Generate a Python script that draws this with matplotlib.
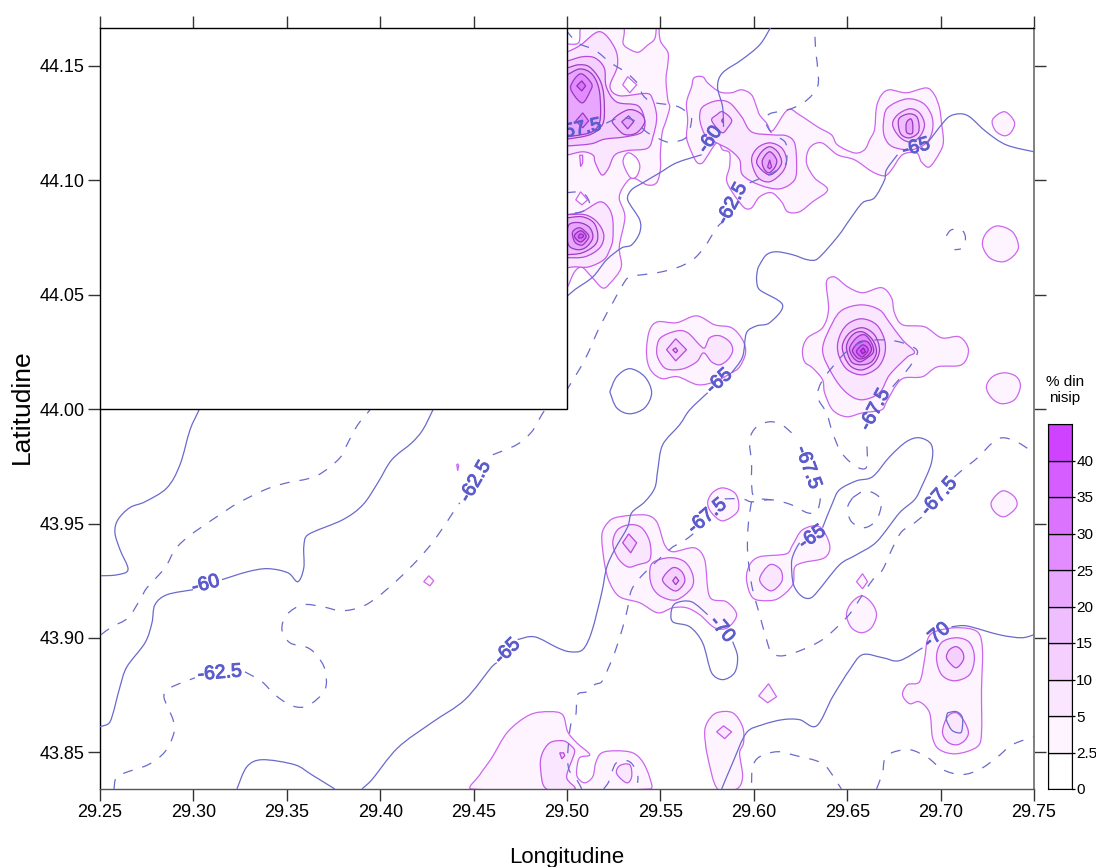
import numpy as np
import matplotlib
matplotlib.use('Agg')
import matplotlib.pyplot as plt
from matplotlib.patches import Rectangle, PathPatch
from matplotlib.path import Path
import matplotlib.patheffects as pe

plt.rcParams['font.family'] = ['Liberation Sans', 'DejaVu Sans']

# ── Sand percentage contours (lon, lat), one list per level ────────────────────
LEVEL_2_5 = [
    [(29.496,44.158),(29.506,44.160),(29.509,44.168),(29.529,44.168),(29.530,44.160),(29.532,44.158),(29.538,44.156),(29.543,44.159),(29.547,44.162),(29.548,44.168),(29.549,44.168),(29.550,44.161),(29.554,44.156),(29.554,44.151),(29.553,44.144),(29.554,44.135),(29.555,44.132),(29.553,44.126),(29.551,44.121),(29.550,44.112),(29.550,44.105),(29.548,44.099),(29.543,44.098),(29.535,44.101),(29.530,44.097),(29.528,44.092),(29.531,44.084),(29.528,44.071),(29.529,44.062),(29.523,44.055),(29.519,44.053),(29.513,44.058),(29.508,44.062),(29.504,44.060),(29.500,44.053),(29.496,44.049)],
    [(29.564,44.134),(29.5667,44.1409),(29.568,44.1448),(29.5726,44.1453),(29.5753,44.1426),(29.5817,44.1387),(29.588,44.1383),(29.5935,44.1396),(29.5988,44.1374),(29.6015,44.1321),(29.6031,44.1286),(29.6068,44.1251),(29.61,44.1217),(29.6181,44.1308),(29.6245,44.1286),(29.6341,44.1234),(29.6416,44.1199),(29.6448,44.1155),(29.6539,44.112),(29.6593,44.1134),(29.662,44.1177),(29.6646,44.1221),(29.6657,44.1321),(29.6684,44.1374),(29.6727,44.1396),(29.6817,44.1383),(29.6924,44.1404),(29.6967,44.1374),(29.6994,44.1317),(29.7005,44.1251),(29.7015,44.1168),(29.6994,44.112),(29.6941,44.1059),(29.6898,44.108),(29.6871,44.112),(29.6796,44.1112),(29.6737,44.1046),(29.67,44.102),(29.6636,44.1037),(29.6539,44.109),(29.6448,44.1112),(29.6363,44.1164),(29.6299,44.1142),(29.6282,44.1077),(29.6325,44.1011),(29.6395,44.0959),(29.6314,44.0906),(29.6245,44.0863),(29.6181,44.0863),(29.6149,44.0906),(29.6095,44.0946),(29.6031,44.0928),(29.5988,44.088),(29.595,44.088),(29.5887,44.0946),(29.5854,44.1002),(29.587,44.1059),(29.587,44.112),(29.5833,44.1134),(29.5801,44.1164),(29.5726,44.1077),(29.5694,44.108),(29.5657,44.1142),(29.564,44.119),(29.5646,44.1265)],
    [(29.7278,44.1265),(29.7342,44.13),(29.7395,44.1256),(29.7379,44.1212),(29.7342,44.1195),(29.7294,44.1217)],
    [(29.7224,44.0718),(29.7245,44.0771),(29.7304,44.0801),(29.7385,44.0775),(29.7417,44.071),(29.7385,44.0666),(29.7331,44.0644),(29.7262,44.0662)],
    [(29.5426,44.0268),(29.5443,44.0347),(29.5486,44.0382),(29.5587,44.0378),(29.5694,44.0408),(29.579,44.0369),(29.5881,44.0356),(29.594,44.0303),(29.5956,44.0246),(29.5924,44.0185),(29.5881,44.0159),(29.579,44.012),(29.5699,44.0107),(29.5592,44.0142),(29.5512,44.0133),(29.5459,44.0159),(29.5432,44.0203)],
    [(29.6261,44.026),(29.6288,44.0312),(29.6368,44.0356),(29.64,44.0434),(29.6389,44.0557),(29.6432,44.0578),(29.6502,44.0535),(29.6582,44.0509),(29.6684,44.0531),(29.6737,44.0487),(29.6753,44.0421),(29.6796,44.0369),(29.6914,44.036),(29.7005,44.0312),(29.7101,44.0316),(29.7149,44.026),(29.7112,44.0194),(29.6983,44.0185),(29.6903,44.0142),(29.6807,44.0137),(29.6764,44.0107),(29.671,44.0032),(29.6684,43.9997),(29.6582,43.9984),(29.6496,43.9967),(29.6422,43.9997),(29.6379,44.0072),(29.6368,44.0129),(29.6314,44.0181),(29.6272,44.0207)],
    [(29.7245,44.0098),(29.7278,44.0142),(29.7342,44.0159),(29.7406,44.0142),(29.7427,44.0098),(29.7395,44.0041),(29.7326,44.0024),(29.7272,44.005)],
    [(29.7272,43.9595),(29.7331,43.9643),(29.7395,43.9617),(29.7406,43.9573),(29.7342,43.9530),(29.7288,43.9552)],
    [(29.5753,43.9591),(29.5779,43.9635),(29.5833,43.9656),(29.5897,43.9635),(29.5919,43.9591),(29.5908,43.9547),(29.5833,43.9512),(29.5774,43.9547)],
    [(29.5186,43.9438),(29.5202,43.9486),(29.5255,43.9525),(29.5416,43.9538),(29.548,43.9508),(29.5523,43.9407),(29.5566,43.9377),(29.5683,43.9394),(29.5737,43.9342),(29.5764,43.918),(29.5854,43.9158),(29.5908,43.9102),(29.586,43.9045),(29.579,43.9045),(29.571,43.9102),(29.564,43.9132),(29.5566,43.9132),(29.5486,43.9110),(29.5389,43.9154),(29.5282,43.918),(29.5229,43.9241),(29.5202,43.932)],
    [(29.5961,43.9255),(29.5978,43.9320),(29.6031,43.9355),(29.6175,43.9368),(29.6208,43.9407),(29.6261,43.9473),(29.6352,43.9486),(29.6406,43.9407),(29.6379,43.9351),(29.6261,43.9329),(29.6218,43.9307),(29.6208,43.9233),(29.6138,43.9176),(29.6074,43.9163),(29.5994,43.9176)],
    [(29.655,43.9246),(29.6582,43.9281),(29.6609,43.9246),(29.6582,43.9215)],
    [(29.6496,43.9102),(29.6523,43.9154),(29.6577,43.9184),(29.663,43.9154),(29.6657,43.9102),(29.663,43.9045),(29.6577,43.9023),(29.6523,43.9045)],
    [(29.6026,43.8747),(29.6079,43.8800),(29.6122,43.8743),(29.6074,43.8717)],
    [(29.5737,43.8586),(29.5753,43.8634),(29.5801,43.8673),(29.5887,43.8673),(29.594,43.8612),(29.5945,43.8542),(29.5924,43.8498),(29.594,43.8393),(29.5908,43.834),(29.5806,43.834),(29.5753,43.8481)],
    [(29.6796,43.8752),(29.6823,43.8796),(29.6887,43.8809),(29.6914,43.8905),(29.693,43.8993),(29.6967,43.9027),(29.7085,43.9045),(29.7197,43.9027),(29.7224,43.8949),(29.7219,43.8774),(29.7219,43.8586),(29.7197,43.8525),(29.7085,43.8494),(29.6994,43.8512),(29.6957,43.8564),(29.6941,43.8673),(29.6887,43.8721),(29.6834,43.8713)],
    [(29.449,43.834),(29.4533,43.8402),(29.4597,43.8476),(29.4683,43.8590),(29.48,43.8664),(29.4908,43.8678),(29.4977,43.8664),(29.5004,43.859),(29.5052,43.8542),(29.5122,43.8490),(29.5068,43.8477),(29.5052,43.8425),(29.5057,43.839),(29.5095,43.8367),(29.5138,43.8394),(29.5154,43.8455),(29.5186,43.8498),(29.5266,43.8507),(29.5352,43.8498),(29.5405,43.8459),(29.5443,43.8389),(29.5443,43.834)],
    [(29.441,43.9757),(29.4415,43.9761),(29.442,43.9753),(29.4415,43.9731)],
    [(29.4233,43.9246),(29.426,43.9272),(29.4287,43.925),(29.4266,43.9228)],
]
HOLES_BELOW_2_5 = [
    [(29.5298,44.1418),(29.5325,44.1453),(29.5373,44.1418),(29.5336,44.1383)],
    [(29.530,44.108),(29.5325,44.112),(29.537,44.110),(29.539,44.106),(29.537,44.1015),(29.5336,44.1015)],
    [(29.5047,44.0915),(29.5073,44.095),(29.511,44.0915),(29.508,44.0893)],
]
LEVEL_5 = [
    [(29.49,44.156),(29.499,44.156),(29.507,44.159),(29.5175,44.165),(29.5255,44.158),(29.527,44.150),(29.523,44.141),(29.528,44.137),(29.5416,44.138),(29.545,44.137),(29.548,44.128),(29.546,44.119),(29.543,44.114),(29.532,44.113),(29.5255,44.111),(29.522,44.105),(29.5186,44.1024),(29.515,44.108),(29.514,44.111),(29.5084,44.1125),(29.499,44.111),(29.49,44.111)],
    [(29.5068,44.111),(29.5084,44.111),(29.5084,44.1077),(29.5073,44.106)],
    [(29.49,44.085),(29.499,44.085),(29.508,44.0863),(29.5175,44.0906),(29.5223,44.088),(29.5245,44.0828),(29.5245,44.074),(29.5229,44.0697),(29.5197,44.0653),(29.5116,44.0622),(29.504,44.0622),(29.499,44.0618),(29.49,44.062)],
    [(29.571,44.1278),(29.5726,44.1321),(29.5801,44.1348),(29.587,44.1339),(29.5935,44.1278),(29.5988,44.1212),(29.61,44.1199),(29.6175,44.1195),(29.6218,44.1164),(29.6229,44.1077),(29.6218,44.1002),(29.6138,44.0963),(29.6031,44.098),(29.594,44.1024),(29.5924,44.109),(29.587,44.1134),(29.5801,44.1164),(29.5747,44.119),(29.572,44.1234)],
    [(29.6694,44.1251),(29.6716,44.1317),(29.6817,44.1356),(29.6903,44.1339),(29.6951,44.1286),(29.6957,44.1221),(29.6924,44.1164),(29.6844,44.1134),(29.6743,44.1147),(29.67,44.119)],
    [(29.548,44.026),(29.5501,44.0312),(29.5587,44.0342),(29.5646,44.0334),(29.571,44.0281),(29.5737,44.0268),(29.5764,44.0312),(29.5817,44.0321),(29.5871,44.0294),(29.5887,44.0255),(29.586,44.0216),(29.5817,44.0194),(29.5774,44.0207),(29.5731,44.0246),(29.5694,44.0207),(29.5619,44.0176),(29.5533,44.0176),(29.5491,44.0216)],
    [(29.6368,44.026),(29.6422,44.0378),(29.6475,44.0434),(29.6577,44.0456),(29.6673,44.0434),(29.6727,44.0378),(29.6796,44.0303),(29.686,44.0251),(29.6823,44.0229),(29.6727,44.0150),(29.6673,44.0072),(29.6577,44.0041),(29.6496,44.0072),(29.6422,44.015)],
    [(29.5245,43.9416),(29.5271,43.9473),(29.5336,43.9495),(29.5399,43.9482),(29.5443,43.9420),(29.5443,43.9342),(29.5378,43.9320),(29.5325,43.9311),(29.5271,43.9351)],
    [(29.5443,43.9276),(29.5459,43.9329),(29.555,43.9351),(29.563,43.9333),(29.5673,43.9276),(29.5667,43.9219),(29.5587,43.9167),(29.5507,43.918),(29.5459,43.9219)],
    [(29.6031,43.9255),(29.6085,43.932),(29.6143,43.9299),(29.6149,43.9246),(29.609,43.9206)],
    [(29.5801,43.859),(29.5838,43.8616),(29.5881,43.859),(29.5844,43.856)],
    [(29.6978,43.8914),(29.7005,43.898),(29.7085,43.9001),(29.7155,43.898),(29.7181,43.8914),(29.7155,43.884),(29.7074,43.8813),(29.7005,43.884)],
    [(29.701,43.859),(29.7037,43.8656),(29.7085,43.8673),(29.7128,43.8634),(29.7149,43.8586),(29.7128,43.8551),(29.7085,43.8533),(29.7037,43.8546)],
    [(29.4891,43.834),(29.4859,43.8425),(29.4865,43.8490),(29.4908,43.8542),(29.4977,43.8551),(29.5015,43.8534),(29.5041,43.8503),(29.4998,43.8393),(29.5041,43.834)],
    [(29.5266,43.8407),(29.5282,43.8442),(29.5336,43.8446),(29.5346,43.8393),(29.5319,43.8367)],
]
LEVEL_10 = [
    [(29.49,44.152),(29.499,44.152),(29.508,44.154),(29.515,44.1535),(29.520,44.149),(29.521,44.141),(29.5265,44.1343),(29.538,44.1326),(29.5416,44.126),(29.540,44.121),(29.531,44.119),(29.520,44.118),(29.513,44.116),(29.499,44.115),(29.49,44.115)],
    [(29.49,44.085),(29.499,44.085),(29.5095,44.085),(29.516,44.0819),(29.5197,44.0762),(29.5175,44.0705),(29.5095,44.0666),(29.499,44.0662),(29.49,44.0662)],
    [(29.5774,44.1265),(29.5801,44.1286),(29.5833,44.1300),(29.5881,44.1265),(29.586,44.123),(29.5833,44.1208),(29.5801,44.123)],
    [(29.5988,44.109),(29.602,44.1142),(29.6085,44.1164),(29.6149,44.1142),(29.6175,44.109),(29.6154,44.1037),(29.6085,44.0994),(29.602,44.1015)],
    [(29.6743,44.1243),(29.6769,44.1286),(29.6834,44.1313),(29.6887,44.1295),(29.6914,44.1243),(29.6887,44.119),(29.6834,44.1168),(29.678,44.119)],
    [(29.5533,44.026),(29.5582,44.0308),(29.564,44.026),(29.5582,44.0211)],
    [(29.6448,44.0281),(29.647,44.0338),(29.6513,44.0378),(29.6582,44.0395),(29.6657,44.0369),(29.67,44.0303),(29.67,44.0238),(29.6662,44.0181),(29.6582,44.015),(29.6502,44.0172),(29.6459,44.0225)],
    [(29.5298,43.9416),(29.533,43.9455),(29.5373,43.9416),(29.5341,43.9372)],
    [(29.5512,43.9259),(29.5566,43.9307),(29.5614,43.929),(29.563,43.9246),(29.5587,43.9206),(29.5539,43.9224)],
    [(29.7031,43.8918),(29.7048,43.8949),(29.7085,43.8962),(29.7117,43.894),(29.7122,43.8905),(29.7085,43.887),(29.7048,43.8892)],
    [(29.4961,43.8498),(29.4982,43.8498),(29.4988,43.8485),(29.4972,43.8472)],
]
LEVEL_15 = [
    [(29.49,44.149),(29.499,44.149),(29.506,44.1505),(29.512,44.1496),(29.5175,44.144),(29.5197,44.137),(29.5197,44.126),(29.516,44.1217),(29.5105,44.1195),(29.499,44.118),(29.49,44.118)],
    [(29.5245,44.1265),(29.5325,44.1308),(29.539,44.1295),(29.5416,44.1256),(29.5373,44.1208),(29.531,44.12),(29.5266,44.123)],
    [(29.49,44.0836),(29.499,44.0836),(29.508,44.0841),(29.5143,44.0815),(29.5165,44.0762),(29.515,44.0718),(29.508,44.0683),(29.499,44.0675),(29.49,44.0675)],
    [(29.5833,44.127),(29.5838,44.1261),(29.5833,44.1252),(29.5828,44.1261)],
    [(29.6015,44.1081),(29.6042,44.1125),(29.6085,44.1147),(29.6127,44.1125),(29.6149,44.1081),(29.6127,44.1046),(29.6085,44.1024),(29.6042,44.1046)],
    [(29.6775,44.1234),(29.678,44.1273),(29.6834,44.1291),(29.6876,44.1273),(29.6882,44.1212),(29.6834,44.1186),(29.6791,44.1199)],
    [(29.5566,44.026),(29.5582,44.0268),(29.5592,44.0255),(29.5582,44.0246)],
    [(29.6475,44.0281),(29.6513,44.0334),(29.6582,44.0356),(29.6646,44.0325),(29.6673,44.026),(29.6646,44.0203),(29.6582,44.0172),(29.6523,44.0185),(29.6486,44.0229)],
    [(29.5566,43.925),(29.5582,43.9268),(29.5598,43.925),(29.5582,43.9233)],
]
LEVEL_20 = [
    [(29.49,44.146),(29.499,44.146),(29.5068,44.1487),(29.5132,44.1466),(29.517,44.1404),(29.518,44.1308),(29.517,44.1243),(29.5122,44.1208),(29.499,44.119),(29.49,44.119)],
    [(29.5293,44.1256),(29.533,44.1282),(29.5357,44.1256),(29.5325,44.1225)],
    [(29.501,44.0806),(29.5068,44.0815),(29.5122,44.0793),(29.5138,44.0749),(29.5105,44.071),(29.5063,44.0697),(29.5015,44.071),(29.5,44.0749)],
    [(29.6047,44.109),(29.6085,44.1125),(29.6122,44.109),(29.6111,44.1055),(29.6079,44.1033),(29.6052,44.1055)],
    [(29.6817,44.1251),(29.6839,44.1269),(29.685,44.1251),(29.685,44.1208),(29.6834,44.1203),(29.6817,44.1212)],
    [(29.6496,44.0273),(29.6529,44.0325),(29.6582,44.0338),(29.6636,44.0303),(29.6657,44.0251),(29.663,44.0207),(29.6577,44.0194),(29.6523,44.0207)],
]
LEVEL_25 = [
    [(29.502,44.1413),(29.5073,44.1466),(29.5132,44.1422),(29.5122,44.1387),(29.5084,44.1339),(29.504,44.137)],
    [(29.5047,44.126),(29.5084,44.1295),(29.5116,44.126),(29.5084,44.123)],
    [(29.503,44.0775),(29.5068,44.0793),(29.511,44.0767),(29.5116,44.0749),(29.5084,44.0718),(29.5052,44.0723),(29.5036,44.074)],
    [(29.6074,44.1059),(29.6085,44.109),(29.6095,44.1059),(29.6085,44.105)],
    [(29.6513,44.0268),(29.655,44.0312),(29.6593,44.0325),(29.663,44.029),(29.6641,44.0251),(29.6609,44.0225),(29.6566,44.0207),(29.6529,44.0229)],
]
LEVEL_30 = [
    [(29.5052,44.1413),(29.5079,44.1435),(29.51,44.1413),(29.5079,44.1391)],
    [(29.5041,44.0762),(29.5073,44.078),(29.51,44.0762),(29.51,44.0749),(29.5073,44.0731),(29.5047,44.0745)],
    [(29.6529,44.026),(29.6566,44.0294),(29.6609,44.0294),(29.663,44.026),(29.6603,44.0229),(29.6566,44.022),(29.6539,44.0238)],
]
LEVEL_35 = [
    [(29.5063,44.0758),(29.5073,44.0766),(29.5089,44.0758),(29.5079,44.0749),(29.5063,44.0749)],
    [(29.655,44.0255),(29.6582,44.0281),(29.6609,44.0268),(29.6609,44.0251),(29.6582,44.0229),(29.6561,44.0238)],
]
LEVEL_40 = [
    [(29.6571,44.0255),(29.6587,44.0268),(29.6598,44.0251),(29.6582,44.0242)],
]

# ── Depth isolines, solid and dashed ───────────────────────────────────────────
SOLID_LINES = [
    [(29.2505,43.9272),(29.259,43.9276),(29.265,43.9299),(29.2607,43.9386),(29.258,43.946),(29.2596,43.9517),(29.266,43.957),(29.274,43.9595),(29.2858,43.9656),(29.2928,43.9757),(29.2982,43.991),(29.303,43.9997),(29.306,44.0063)],
    [(29.25,43.8612),(29.2554,43.8634),(29.2607,43.8787),(29.2644,43.8874),(29.2741,43.8979),(29.2778,43.9066),(29.2794,43.9145),(29.2858,43.9189),(29.2998,43.9211)],
    [(29.3153,43.9255),(29.3292,43.929),(29.3399,43.9303),(29.3506,43.9285),(29.3559,43.9246),(29.3591,43.9307),(29.3591,43.9399),(29.3613,43.9451),(29.38,43.9517),(29.3907,43.9582),(29.3987,43.9678),(29.4062,43.9779),(29.4169,43.9853),(29.4228,43.991),(29.4282,43.9997),(29.4303,44.0041)],
    [(29.4993,44.0487),(29.5041,44.0522),(29.5138,44.0578),(29.5212,44.0653),(29.5293,44.0705),(29.5346,44.0718),(29.5389,44.0771),(29.5389,44.0828),(29.5325,44.0915),(29.5346,44.0959),(29.5405,44.0989),(29.5496,44.1033),(29.5587,44.1077),(29.5721,44.1112)],
    [(29.5838,44.1234),(29.5833,44.1321),(29.5806,44.1409),(29.5833,44.147),(29.5935,44.1527),(29.6031,44.1592),(29.609,44.1668)],
    [(29.5881,44.0159),(29.594,44.0229),(29.5961,44.0334),(29.6015,44.0364),(29.6085,44.0378),(29.6154,44.0456),(29.6031,44.0522),(29.6015,44.0565),(29.602,44.0609),(29.6031,44.0631),(29.6068,44.0675),(29.6122,44.0688),(29.6208,44.0675),(29.6288,44.0653),(29.6341,44.0657),(29.6448,44.0753),(29.6513,44.0828),(29.6582,44.0902),(29.6646,44.0924),(29.67,44.1002),(29.671,44.1046),(29.6769,44.1112)],
    [(29.693,44.1164),(29.7037,44.1273),(29.7101,44.1291),(29.7155,44.1278),(29.7245,44.1212),(29.7352,44.1155),(29.75,44.1125)],
    [(29.5753,44.0072),(29.5657,43.9997),(29.5603,43.9932),(29.5512,43.9844),(29.5486,43.9735),(29.547,43.9656),(29.5416,43.9595),(29.5346,43.9547),(29.5325,43.9486),(29.5255,43.9386),(29.5212,43.9307),(29.5186,43.9198),(29.5132,43.9027),(29.5084,43.8949),(29.5015,43.894),(29.495,43.8957),(29.4827,43.9005),(29.4736,43.8993)],
    [(29.4624,43.8892),(29.4597,43.8874),(29.4453,43.873),(29.4276,43.863),(29.4094,43.852),(29.3955,43.838),(29.3902,43.834)],
    [(29.3233,43.834),(29.3286,43.8437),(29.3367,43.8468),(29.3543,43.8446),(29.3634,43.8402),(29.3757,43.834)],
    [(29.5887,43.8984),(29.5913,43.8918),(29.5897,43.8848),(29.5833,43.8818),(29.5774,43.8848),(29.5726,43.8979),(29.5657,43.9049),(29.5566,43.9071),(29.556,43.9124),(29.5587,43.9154),(29.5667,43.9158),(29.5753,43.9102)],
    [(29.6245,43.9416),(29.6218,43.9377),(29.6202,43.9329),(29.6213,43.9233),(29.6261,43.918),(29.6315,43.918),(29.6459,43.932),(29.655,43.9364),(29.6657,43.942),(29.678,43.9547),(29.686,43.9604),(29.6898,43.9661),(29.6951,43.9766),(29.6951,43.9844),(29.6887,43.9875),(29.6817,43.9858),(29.6727,43.9792),(29.6636,43.9705),(29.655,43.9687),(29.6459,43.9648),(29.6422,43.9591),(29.6368,43.9482)],
    [(29.5828,43.834),(29.5887,43.8455),(29.5961,43.8586),(29.6047,43.8621),(29.6154,43.8643),(29.6245,43.8643),(29.6336,43.8616),(29.6422,43.8743),(29.6513,43.8861),(29.6582,43.8927),(29.6689,43.8914),(29.678,43.8901),(29.6903,43.8957)],
    [(29.7058,43.9049),(29.7138,43.9053),(29.7315,43.9014),(29.7433,43.9001),(29.75,43.9014)],
    [(29.7037,43.8673),(29.7085,43.8678),(29.7117,43.8651),(29.7112,43.859),(29.709,43.8586),(29.7058,43.8599),(29.7031,43.8643),(29.7037,43.8673)],
    [(29.5229,44.0076),(29.5266,44.0142),(29.5336,44.0177),(29.5416,44.0142),(29.5453,44.0072),(29.5416,44.0006),(29.5336,43.998),(29.5266,44.0006),(29.5229,44.0076)],
]
DASHED_LINES = [
    [(29.2505,43.9014),(29.2564,43.9049),(29.265,43.9088),(29.2714,43.9167),(29.2751,43.9219),(29.2848,43.9307),(29.2901,43.9386),(29.2971,43.9442),(29.3062,43.9495),(29.3142,43.9539),(29.3233,43.9587),(29.3383,43.9648),(29.35,43.9678),(29.3613,43.9696),(29.3688,43.9722),(29.3784,43.9787),(29.3827,43.9853),(29.388,43.9932),(29.3945,43.9997),(29.3977,44.0041)],
    [(29.2575,43.834),(29.2586,43.8389),(29.2634,43.8411),(29.2757,43.8446),(29.2848,43.8503),(29.2896,43.8586),(29.2891,43.8643),(29.2842,43.8743),(29.2875,43.8782),(29.3008,43.8826)],
    [(29.3276,43.8852),(29.3367,43.8809),(29.3436,43.8752),(29.3527,43.8704),(29.3613,43.8704),(29.3704,43.8774),(29.3704,43.8861),(29.3666,43.8918),(29.3613,43.8957),(29.3517,43.8979),(29.3474,43.9036),(29.35,43.9102),(29.3586,43.9145),(29.3688,43.9137),(29.3795,43.9119),(29.3902,43.9137),(29.3987,43.918),(29.4094,43.9255),(29.4201,43.9342),(29.4292,43.943),(29.4389,43.9547),(29.4426,43.9591)],
    [(29.4603,43.9801),(29.4731,43.9845),(29.4811,43.9901),(29.4865,43.9976),(29.4908,44.0028)],
    [(29.4993,44.0076),(29.5095,44.0216),(29.5175,44.036),(29.5245,44.0465),(29.5298,44.0543),(29.5336,44.0578),(29.548,44.0596),(29.5587,44.0618),(29.5673,44.0653),(29.5737,44.071),(29.5801,44.0793),(29.5828,44.0815)],
    [(29.5978,44.0989),(29.6015,44.1002),(29.6058,44.1015),(29.6154,44.1059),(29.6175,44.1081),(29.6170,44.1164),(29.61,44.1203),(29.6063,44.1256),(29.6085,44.1291),(29.6181,44.1308),(29.6272,44.1343),(29.6341,44.1409),(29.6341,44.1496),(29.6331,44.157),(29.6325,44.168)],
    [(29.4993,44.1658),(29.5057,44.1601),(29.5148,44.157),(29.5234,44.1514),(29.5319,44.147),(29.5384,44.1418),(29.5405,44.1374),(29.5453,44.1343),(29.555,44.133),(29.5598,44.1321),(29.5646,44.1295),(29.5667,44.1265),(29.564,44.119),(29.5576,44.1168),(29.5533,44.1168),(29.5432,44.1208),(29.5352,44.1265),(29.5271,44.127),(29.5202,44.1247)],
    [(29.4993,44.0946),(29.5084,44.0946),(29.5122,44.0893),(29.5079,44.0863),(29.4993,44.0854)],
    [(29.5079,43.834),(29.5052,43.8381),(29.5015,43.8416),(29.5004,43.8455),(29.5004,43.8498),(29.502,43.8621),(29.5047,43.8664),(29.5057,43.8752),(29.5105,43.8765),(29.5148,43.8796),(29.5186,43.8809),(29.5229,43.8883),(29.5255,43.8935),(29.5298,43.9045),(29.5325,43.9132),(29.5346,43.9211),(29.5405,43.9276),(29.556,43.9394),(29.5619,43.9420),(29.5683,43.946)],
    [(29.5844,43.9608),(29.594,43.9608),(29.5988,43.9595),(29.6095,43.9604),(29.6202,43.9582),(29.6288,43.9547),(29.6341,43.9556),(29.6363,43.9648)],
    [(29.6202,43.9897),(29.6149,43.9932),(29.6085,43.9945),(29.6015,43.9923),(29.5978,43.9866),(29.5988,43.9766),(29.5988,43.9678),(29.6004,43.9617),(29.6095,43.9604)],
    [(29.5988,43.9595),(29.5978,43.9547),(29.5967,43.946),(29.5967,43.9372),(29.5978,43.9289),(29.5994,43.9211),(29.6031,43.9102),(29.6068,43.8993),(29.6095,43.8936),(29.6154,43.8922),(29.6261,43.8949),(29.6368,43.8993),(29.6459,43.9058),(29.6523,43.9115),(29.6582,43.9189),(29.6636,43.9254),(29.6689,43.9298),(29.6743,43.9394),(29.6791,43.9464),(29.686,43.9503),(29.6914,43.9539)],
    [(29.7074,43.9704),(29.7117,43.9735),(29.7197,43.9787),(29.7277,43.9853),(29.7331,43.9875),(29.7406,43.9858),(29.75,43.981)],
    [(29.6529,43.9613),(29.6593,43.9643),(29.6657,43.9626),(29.6684,43.9591),(29.6657,43.9517),(29.6593,43.9482),(29.6523,43.9508),(29.6502,43.9569),(29.6529,43.9613)],
    [(29.6743,44.0098),(29.6834,44.0185),(29.6876,44.0246),(29.686,44.0268),(29.678,44.0294),(29.6684,44.0303),(29.6582,44.0294),(29.6496,44.0251),(29.6422,44.0185),(29.6363,44.012),(29.6341,44.0054),(29.6389,43.9984),(29.6422,43.9897),(29.647,43.9809),(29.655,43.9748),(29.6604,43.9748),(29.6604,43.9879)],
    [(29.7031,44.0758),(29.7058,44.0784),(29.7112,44.0784),(29.7133,44.0749),(29.7117,44.0705),(29.7074,44.0697)],
    [(29.5988,43.8367),(29.5994,43.8437),(29.6031,43.8481),(29.6127,43.8503),(29.6229,43.8485),(29.6336,43.8463),(29.6389,43.8437),(29.6469,43.834)],
    [(29.6657,43.834),(29.6689,43.8411),(29.67,43.8468),(29.6737,43.8498),(29.6834,43.8512),(29.6931,43.8477),(29.7011,43.8425),(29.7112,43.8403),(29.7208,43.8425),(29.73,43.8477),(29.7385,43.8534),(29.75,43.8568)],
    [(29.5196,43.834),(29.5223,43.8371),(29.5245,43.8425),(29.5266,43.8455),(29.5319,43.8464),(29.5352,43.8446),(29.5378,43.8402),(29.5378,43.8367)],
]

# lon, lat, rotation, text
LINE_LABELS = [
    (29.5068,44.1221,12,'-57.5'), (29.3067,43.9232,15,'-60'), (29.3142,43.8844,5,'-62.5'),
    (29.4512,43.9683,60,'-62.5'), (29.4683,43.8940,45,'-65'), (29.5817,44.0120,42,'-65'),
    (29.687,44.1142,15,'-65'), (29.5769,44.1177,55,'-60'), (29.5887,44.0897,62,'-62.5'),
    (29.6652,43.9997,62,'-67.5'), (29.6288,43.9744,-70,'-67.5'), (29.5753,43.9530,40,'-67.5'),
    (29.6994,43.9617,48,'-67.5'), (29.6315,43.9438,35,'-65'), (29.5828,43.9036,-50,'-70'),
    (29.6983,43.9010,40,'-70'),
]

X_TICKS = [29.25, 29.30, 29.35, 29.40, 29.45, 29.50, 29.55, 29.60, 29.65, 29.70, 29.75]
Y_TICKS = [43.85, 43.90, 43.95, 44.00, 44.05, 44.10, 44.15]

BAR_LABELS = ['0', '2.5', '5', '10', '15', '20', '25', '30', '35', '40']
BAR_COLORS = ['#FFFFFF', '#FEF4FF', '#FAE6FF', '#F5D0FF', '#EFBEFF',
              '#E8A6FF', '#E28CFF', '#DC73FF', '#D65DFF', '#CF42FF']
LEVEL_POLYS = [LEVEL_2_5, LEVEL_5, LEVEL_10, LEVEL_15, LEVEL_20,
               LEVEL_25, LEVEL_30, LEVEL_35, LEVEL_40]
EDGE_COLORS = ['#CC66EE', '#C45AE8', '#B34AD8', '#A03CC4', '#9A38BE',
               '#9A38BE', '#9030B0', '#9030B0', '#8828A8']

LINE_COLOR = '#6A6ACD'
LABEL_COLOR = '#5C5CCC'
W, H = 1096, 867


def smooth_path(points, closed=False):
    """Bezier path through the read vertices, so contours are not angular."""
    pts = np.array(points, dtype=float)
    n = len(pts)
    if closed and n < 5:                # tiny diamonds stay as they are
        return Path(np.vstack([pts, pts[:1]]), closed=True)
    scale = np.array([1868.0, 2287.0])  # deg -> roughly equal units
    verts = [pts[0]]
    codes = [Path.MOVETO]
    last = n if closed else n - 1
    for i in range(last):
        p1, p2 = pts[i], pts[(i + 1) % n]
        p0 = pts[(i - 1) % n] if closed or i > 0 else p1
        p3 = pts[(i + 2) % n] if closed or i < n - 2 else p2
        seg = np.linalg.norm((p2 - p1) * scale)
        t1, t2 = (p2 - p0) / 6, (p3 - p1) / 6
        for t in (t1, t2):              # keep handles short next to close vertices
            size = np.linalg.norm(t * scale)
            if size > 0.4 * seg and size > 0:
                t *= 0.4 * seg / size
        verts += [p1 + t1, p2 - t2, p2]
        codes += [Path.CURVE4] * 3
    return Path(np.array(verts), codes)


def draw_poly(ax, poly, face, edge):
    ax.add_patch(PathPatch(smooth_path(poly, closed=True), facecolor=face, edgecolor=edge,
                           linewidth=0.9, zorder=2))


fig = plt.figure(figsize=(W / 100, H / 100), dpi=100)
ax = fig.add_axes([100 / W, 1 - 789 / H, 934 / W, 761 / H])

for polys, face, edge in zip(LEVEL_POLYS, BAR_COLORS[1:], EDGE_COLORS):
    for poly in polys:
        draw_poly(ax, poly, face, edge)
    if polys is LEVEL_2_5:
        for poly in HOLES_BELOW_2_5:
            draw_poly(ax, poly, 'white', edge)

for line in SOLID_LINES:
    ax.add_patch(PathPatch(smooth_path(line), fill=False, edgecolor=LINE_COLOR,
                           linewidth=0.9, zorder=3))
for line in DASHED_LINES:
    ax.add_patch(PathPatch(smooth_path(line), fill=False, edgecolor=LINE_COLOR,
                           linewidth=0.9, linestyle=(0, (8, 8)), zorder=3))

for lon, lat, rot, txt in LINE_LABELS:
    t = ax.text(lon, lat, txt, rotation=rot, rotation_mode='anchor', ha='center', va='center',
                fontsize=14, color=LABEL_COLOR, zorder=4)
    t.set_path_effects([pe.withStroke(linewidth=0.7, foreground=LABEL_COLOR)])

# blank inset rectangle over the north-west corner
ax.add_patch(Rectangle((29.25, 44.0), 0.25, 0.1666, facecolor='white', edgecolor='black',
                       linewidth=1.0, zorder=5))

ax.set_xlim(29.25, 29.75)
ax.set_ylim(43.834, 44.1666)
ax.set_xticks(X_TICKS)
ax.set_xticklabels([f'{v:.2f}' for v in X_TICKS])
ax.set_yticks(Y_TICKS)
ax.set_yticklabels([f'{v:.2f}' for v in Y_TICKS])
ax.tick_params(top=True, right=True, length=8.5, width=1.0, color='#333333',
               labelsize=13, pad=2.5)
ax.set_xlabel('Longitudine', fontsize=16, va='center')
ax.xaxis.set_label_coords(0.5, -0.0905)
ax.set_ylabel('Latitudine', fontsize=19, va='center')
ax.yaxis.set_label_coords(-0.0835, 0.502)
for side, col, lw in [('left', 'black', 1.0), ('bottom', '#555555', 1.0),
                      ('right', '#808080', 1.4), ('top', 'black', 1.0)]:
    ax.spines[side].set_color(col)
    ax.spines[side].set_linewidth(lw)

# colour scale, equal-height blocks
cax = fig.add_axes([1048 / W, 1 - 789 / H, 24 / W, 365 / H])
for i, col in enumerate(BAR_COLORS):
    cax.bar(0, 1, bottom=i, width=1, color=col, edgecolor='black', linewidth=0.9)
cax.set_xlim(-0.5, 0.5)
cax.set_ylim(0, 10)
cax.set_xticks([])
cax.set_yticks(range(len(BAR_LABELS)))
cax.set_yticklabels(BAR_LABELS)
cax.yaxis.tick_right()
cax.tick_params(axis='y', length=2, width=0.9, labelsize=11, pad=1)
fig.text(1065 / W, 1 - 390 / H, '% din\nnisip', ha='center', va='center', fontsize=11,
         linespacing=1.15)

plt.savefig('out.png', dpi=100)
